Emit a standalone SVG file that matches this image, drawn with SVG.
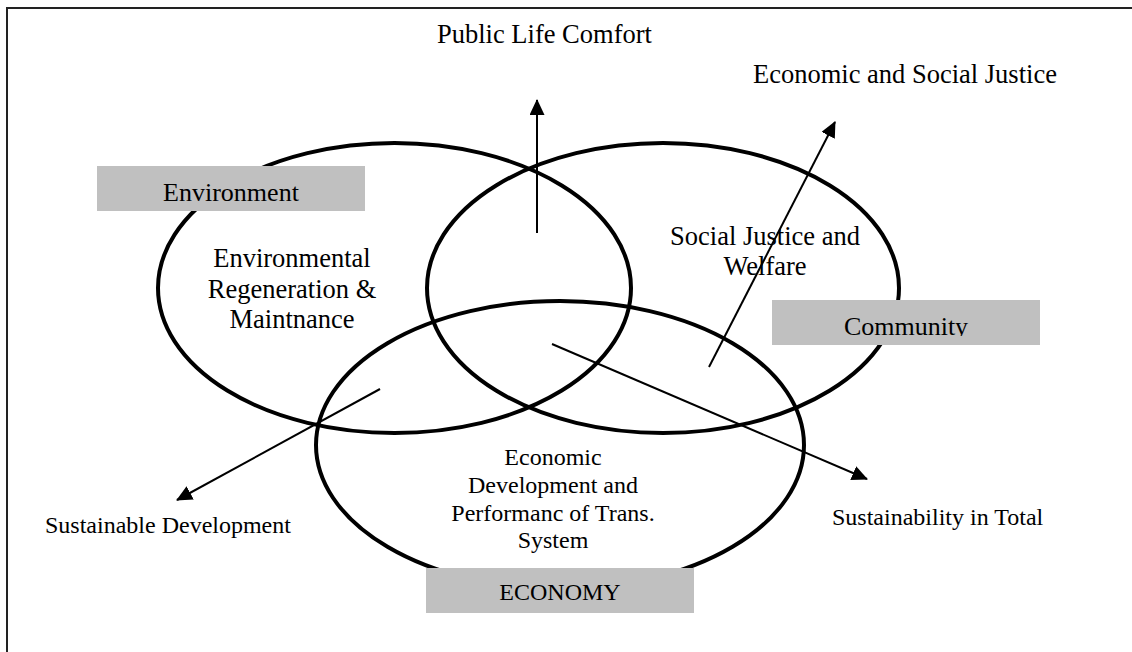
<svg xmlns="http://www.w3.org/2000/svg" width="1132" height="652" viewBox="0 0 1132 652">
  <style>
    .ring { fill: none; stroke: #000; stroke-width: 4; }
    .tag { fill: #c0c0c0; }
    .conn { stroke: #000; stroke-width: 2; fill: none; marker-end: url(#head); }
    text { font-family: "Liberation Serif", "Times New Roman", serif; fill: #000; }
    .mid { text-anchor: middle; }
  </style>
  <defs>
    <marker id="head" viewBox="0 0 16 15" refX="15" refY="7.5" markerWidth="16" markerHeight="15" markerUnits="userSpaceOnUse" orient="auto">
      <path d="M0,0 L16,7.5 L0,15 Z" fill="#000"/>
    </marker>
    <clipPath id="communityClip">
      <rect x="772" y="300" width="268" height="36"/>
    </clipPath>
  </defs>

  <rect x="0" y="0" width="1132" height="652" fill="#fff"/>

  <!-- outer frame (top and left edges) -->
  <path d="M7,652 L7,8 L1132,8" fill="none" stroke="#222" stroke-width="2"/>

  <!-- three overlapping spheres -->
  <g id="environment-ring">
    <ellipse class="ring" cx="394.5" cy="288" rx="236.5" ry="145"/>
  </g>
  <g id="community-ring">
    <ellipse class="ring" cx="663" cy="288" rx="236" ry="145"/>
  </g>
  <g id="economy-ring">
    <ellipse class="ring" cx="560" cy="445" rx="244" ry="144"/>
  </g>

  <!-- labels inside the spheres -->
  <g id="environment-text">
    <text class="mid" x="292" y="267" font-size="26.5">Environmental</text>
    <text class="mid" x="292" y="298" font-size="26.5">Regeneration &amp;</text>
    <text class="mid" x="292" y="328" font-size="26.5">Maintnance</text>
  </g>
  <g id="community-text">
    <text class="mid" x="765" y="245" font-size="26.5">Social Justice and</text>
    <text class="mid" x="765" y="275" font-size="26.5">Welfare</text>
  </g>
  <g id="economy-text">
    <text class="mid" x="553" y="465" font-size="24">Economic</text>
    <text class="mid" x="553" y="493" font-size="24">Development and</text>
    <text class="mid" x="553" y="521" font-size="24">Performanc of Trans.</text>
    <text class="mid" x="553" y="548" font-size="24">System</text>
  </g>

  <!-- grey name tags -->
  <g id="environment-tag">
    <rect class="tag" x="97" y="166" width="268" height="45"/>
    <text class="mid" x="231" y="201" font-size="26">Environment</text>
  </g>
  <g id="community-tag">
    <rect class="tag" x="772" y="300" width="268" height="45"/>
    <text class="mid" x="906" y="335" font-size="26" clip-path="url(#communityClip)">Community</text>
  </g>
  <g id="economy-tag">
    <rect class="tag" x="426" y="568" width="268" height="45"/>
    <text class="mid" x="560" y="600" font-size="24">ECONOMY</text>
  </g>

  <!-- outcome arrows -->
  <g id="connectors">
    <line class="conn" x1="537" y1="233" x2="537" y2="100"/>
    <line class="conn" x1="709" y1="367" x2="835" y2="122"/>
    <line class="conn" x1="552" y1="344" x2="867" y2="479"/>
    <line class="conn" x1="380" y1="389" x2="177" y2="500"/>
  </g>

  <!-- outcome labels -->
  <g id="public-life">
    <text x="437" y="43" font-size="26.5">Public Life Comfort</text>
  </g>
  <g id="economic-social-justice">
    <text x="753" y="83" font-size="26.5">Economic and Social Justice</text>
  </g>
  <g id="sustainable-development">
    <text x="45" y="533" font-size="24">Sustainable Development</text>
  </g>
  <g id="sustainability-total">
    <text x="832" y="525" font-size="24">Sustainability in Total</text>
  </g>
</svg>
